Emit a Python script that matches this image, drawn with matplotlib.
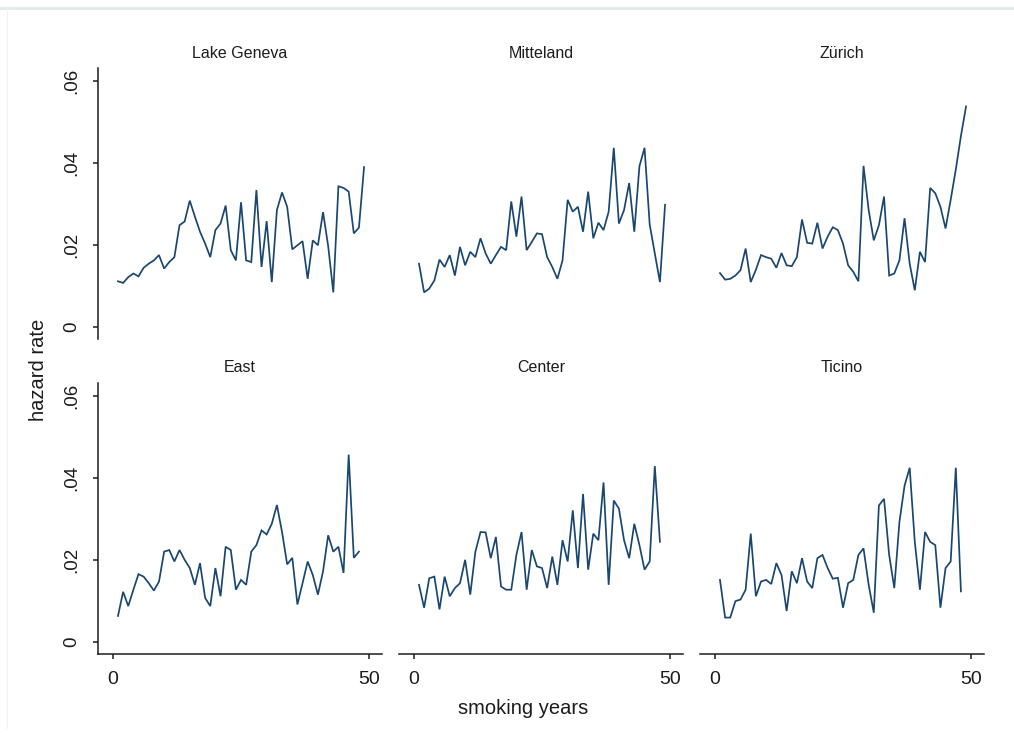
import numpy as np
import matplotlib
matplotlib.use("Agg")
import matplotlib.pyplot as plt
from matplotlib.lines import Line2D

plt.rcParams['font.family'] = ['Liberation Sans', 'DejaVu Sans']

# hazard rate by smoking year, one series per region
regions = ["Lake Geneva", "Mitteland", "Zürich", "East", "Center", "Ticino"]

lake_geneva = [0.0111, 0.0107, 0.0121, 0.0130, 0.0123, 0.0144, 0.0154, 0.0162, 0.0175, 0.0142,
               0.0158, 0.0170, 0.0248, 0.0257, 0.0308, 0.0269, 0.0232, 0.0203, 0.0170, 0.0236,
               0.0252, 0.0296, 0.0187, 0.0162, 0.0304, 0.0162, 0.0158, 0.0334, 0.0146, 0.0258,
               0.0109, 0.0285, 0.0328, 0.0293, 0.0189, 0.0199, 0.0209, 0.0117, 0.0211, 0.0199,
               0.0280, 0.0197, 0.0084, 0.0343, 0.0339, 0.0330, 0.0228, 0.0242, 0.0390]
mitteland = [0.0154, 0.0084, 0.0093, 0.0113, 0.0164, 0.0146, 0.0175, 0.0125, 0.0195, 0.0150,
             0.0183, 0.0170, 0.0216, 0.0179, 0.0154, 0.0175, 0.0195, 0.0187, 0.0306, 0.0220,
             0.0318, 0.0187, 0.0207, 0.0228, 0.0226, 0.0170, 0.0146, 0.0117, 0.0162, 0.0310,
             0.0281, 0.0293, 0.0232, 0.0330, 0.0216, 0.0254, 0.0236, 0.0281, 0.0437, 0.0252,
             0.0285, 0.0351, 0.0232, 0.0392, 0.0437, 0.0250, 0.0179, 0.0109, 0.0298]
zurich = [0.0131, 0.0115, 0.0117, 0.0125, 0.0138, 0.0191, 0.0109, 0.0139, 0.0175, 0.0170,
          0.0166, 0.0144, 0.0180, 0.0150, 0.0148, 0.0170, 0.0262, 0.0205, 0.0203, 0.0254,
          0.0191, 0.0220, 0.0243, 0.0236, 0.0203, 0.0150, 0.0134, 0.0111, 0.0393, 0.0285,
          0.0211, 0.0248, 0.0318, 0.0125, 0.0130, 0.0162, 0.0265, 0.0154, 0.0089, 0.0183,
          0.0158, 0.0339, 0.0326, 0.0293, 0.0240, 0.0310, 0.0384, 0.0466, 0.0538]
east = [0.0063, 0.0122, 0.0087, 0.0127, 0.0165, 0.0159, 0.0143, 0.0125, 0.0147, 0.0220,
        0.0224, 0.0196, 0.0224, 0.0200, 0.0180, 0.0139, 0.0192, 0.0107, 0.0087, 0.0180,
        0.0111, 0.0232, 0.0224, 0.0127, 0.0151, 0.0139, 0.0220, 0.0236, 0.0272, 0.0262,
        0.0288, 0.0334, 0.0268, 0.0189, 0.0205, 0.0091, 0.0143, 0.0196, 0.0163, 0.0115,
        0.0172, 0.0260, 0.0220, 0.0232, 0.0168, 0.0457, 0.0205, 0.0220]
center = [0.0139, 0.0083, 0.0155, 0.0159, 0.0079, 0.0159, 0.0111, 0.0131, 0.0143, 0.0200,
          0.0115, 0.0220, 0.0268, 0.0267, 0.0204, 0.0256, 0.0135, 0.0127, 0.0127, 0.0212,
          0.0268, 0.0127, 0.0224, 0.0184, 0.0180, 0.0131, 0.0208, 0.0139, 0.0248, 0.0196,
          0.0321, 0.0180, 0.0361, 0.0176, 0.0264, 0.0248, 0.0389, 0.0139, 0.0345, 0.0325,
          0.0248, 0.0204, 0.0288, 0.0236, 0.0176, 0.0196, 0.0429, 0.0244]
ticino = [0.0151, 0.0059, 0.0059, 0.0099, 0.0103, 0.0127, 0.0264, 0.0111, 0.0147, 0.0151,
          0.0141, 0.0192, 0.0163, 0.0075, 0.0172, 0.0143, 0.0204, 0.0147, 0.0131, 0.0204,
          0.0212, 0.0180, 0.0154, 0.0156, 0.0083, 0.0143, 0.0151, 0.0212, 0.0228, 0.0139,
          0.0071, 0.0333, 0.0349, 0.0212, 0.0131, 0.0292, 0.0381, 0.0425, 0.0244, 0.0127,
          0.0268, 0.0244, 0.0236, 0.0083, 0.0180, 0.0196, 0.0425, 0.0123]

series = [lake_geneva, mitteland, zurich, east, center, ticino]

y_ticks = [0, 0.02, 0.04, 0.06]
y_tick_labels = ["0", ".02", ".04", ".06"]
x_ticks = [0, 50]
x_tick_labels = ["0", "50"]

W, H = 1014, 736
fig = plt.figure(figsize=(W / 100, H / 100), dpi=100)
fig.patch.set_facecolor("white")

# faint outer border along top and left
fig.add_artist(Line2D([0, 1], [1 - 7.5 / H, 1 - 7.5 / H], color="#e3ecec", lw=2.2))
fig.add_artist(Line2D([7 / W, 7 / W], [1 - 7.5 / H, 1 - 728 / H], color="#f1f3f3", lw=0.8))

col_left = [98, 399, 700]
col_w = 284
row_top = [68, 383]
row_h = 271

navy = "#1a476f"
ink = "#1c1c1c"

for i, (name, vals) in enumerate(zip(regions, series)):
    r, c = divmod(i, 3)
    left = col_left[c] / W
    bottom = 1 - (row_top[r] + row_h) / H
    ax = fig.add_axes([left, bottom, col_w / W, row_h / H])
    years = np.arange(1, len(vals) + 1)
    ax.plot(years, vals, color=navy, lw=1.25, solid_joinstyle="miter")
    ax.set_xlim(-2.9, 52.5)
    ax.set_ylim(-0.003, 0.0632)
    ax.set_facecolor("none")

    for s in ax.spines.values():
        s.set_visible(False)
        s.set_color(ink)
        s.set_linewidth(1.1)

    if c == 0:
        ax.spines["left"].set_visible(True)
        ax.set_yticks(y_ticks)
        ax.set_yticklabels(y_tick_labels, rotation=90, va="center")
        ax.tick_params(axis="y", length=3.5, width=1.1, color=ink, pad=9,
                       labelsize=13.5, labelcolor=ink)
    else:
        ax.set_yticks([])

    if r == 1:
        ax.spines["bottom"].set_visible(True)
        ax.set_xticks(x_ticks)
        ax.set_xticklabels(x_tick_labels)
        ax.tick_params(axis="x", length=3.5, width=1.1, color=ink, pad=9,
                       labelsize=14, labelcolor=ink)
    else:
        ax.set_xticks([])

    title_y = 1 - (row_top[r] - 15) / H
    fig.text((col_left[c] + col_w / 2) / W, title_y, name, ha="center", va="center",
             fontsize=11.5, color=ink)

fig.text(38 / W, 1 - 370 / H, "hazard rate", rotation=90, ha="center", va="center",
         fontsize=14.5, color=ink)
fig.text(523 / W, 1 - 708 / H, "smoking years", ha="center", va="center",
         fontsize=14.5, color=ink)

fig.savefig("out.png", dpi=100)
